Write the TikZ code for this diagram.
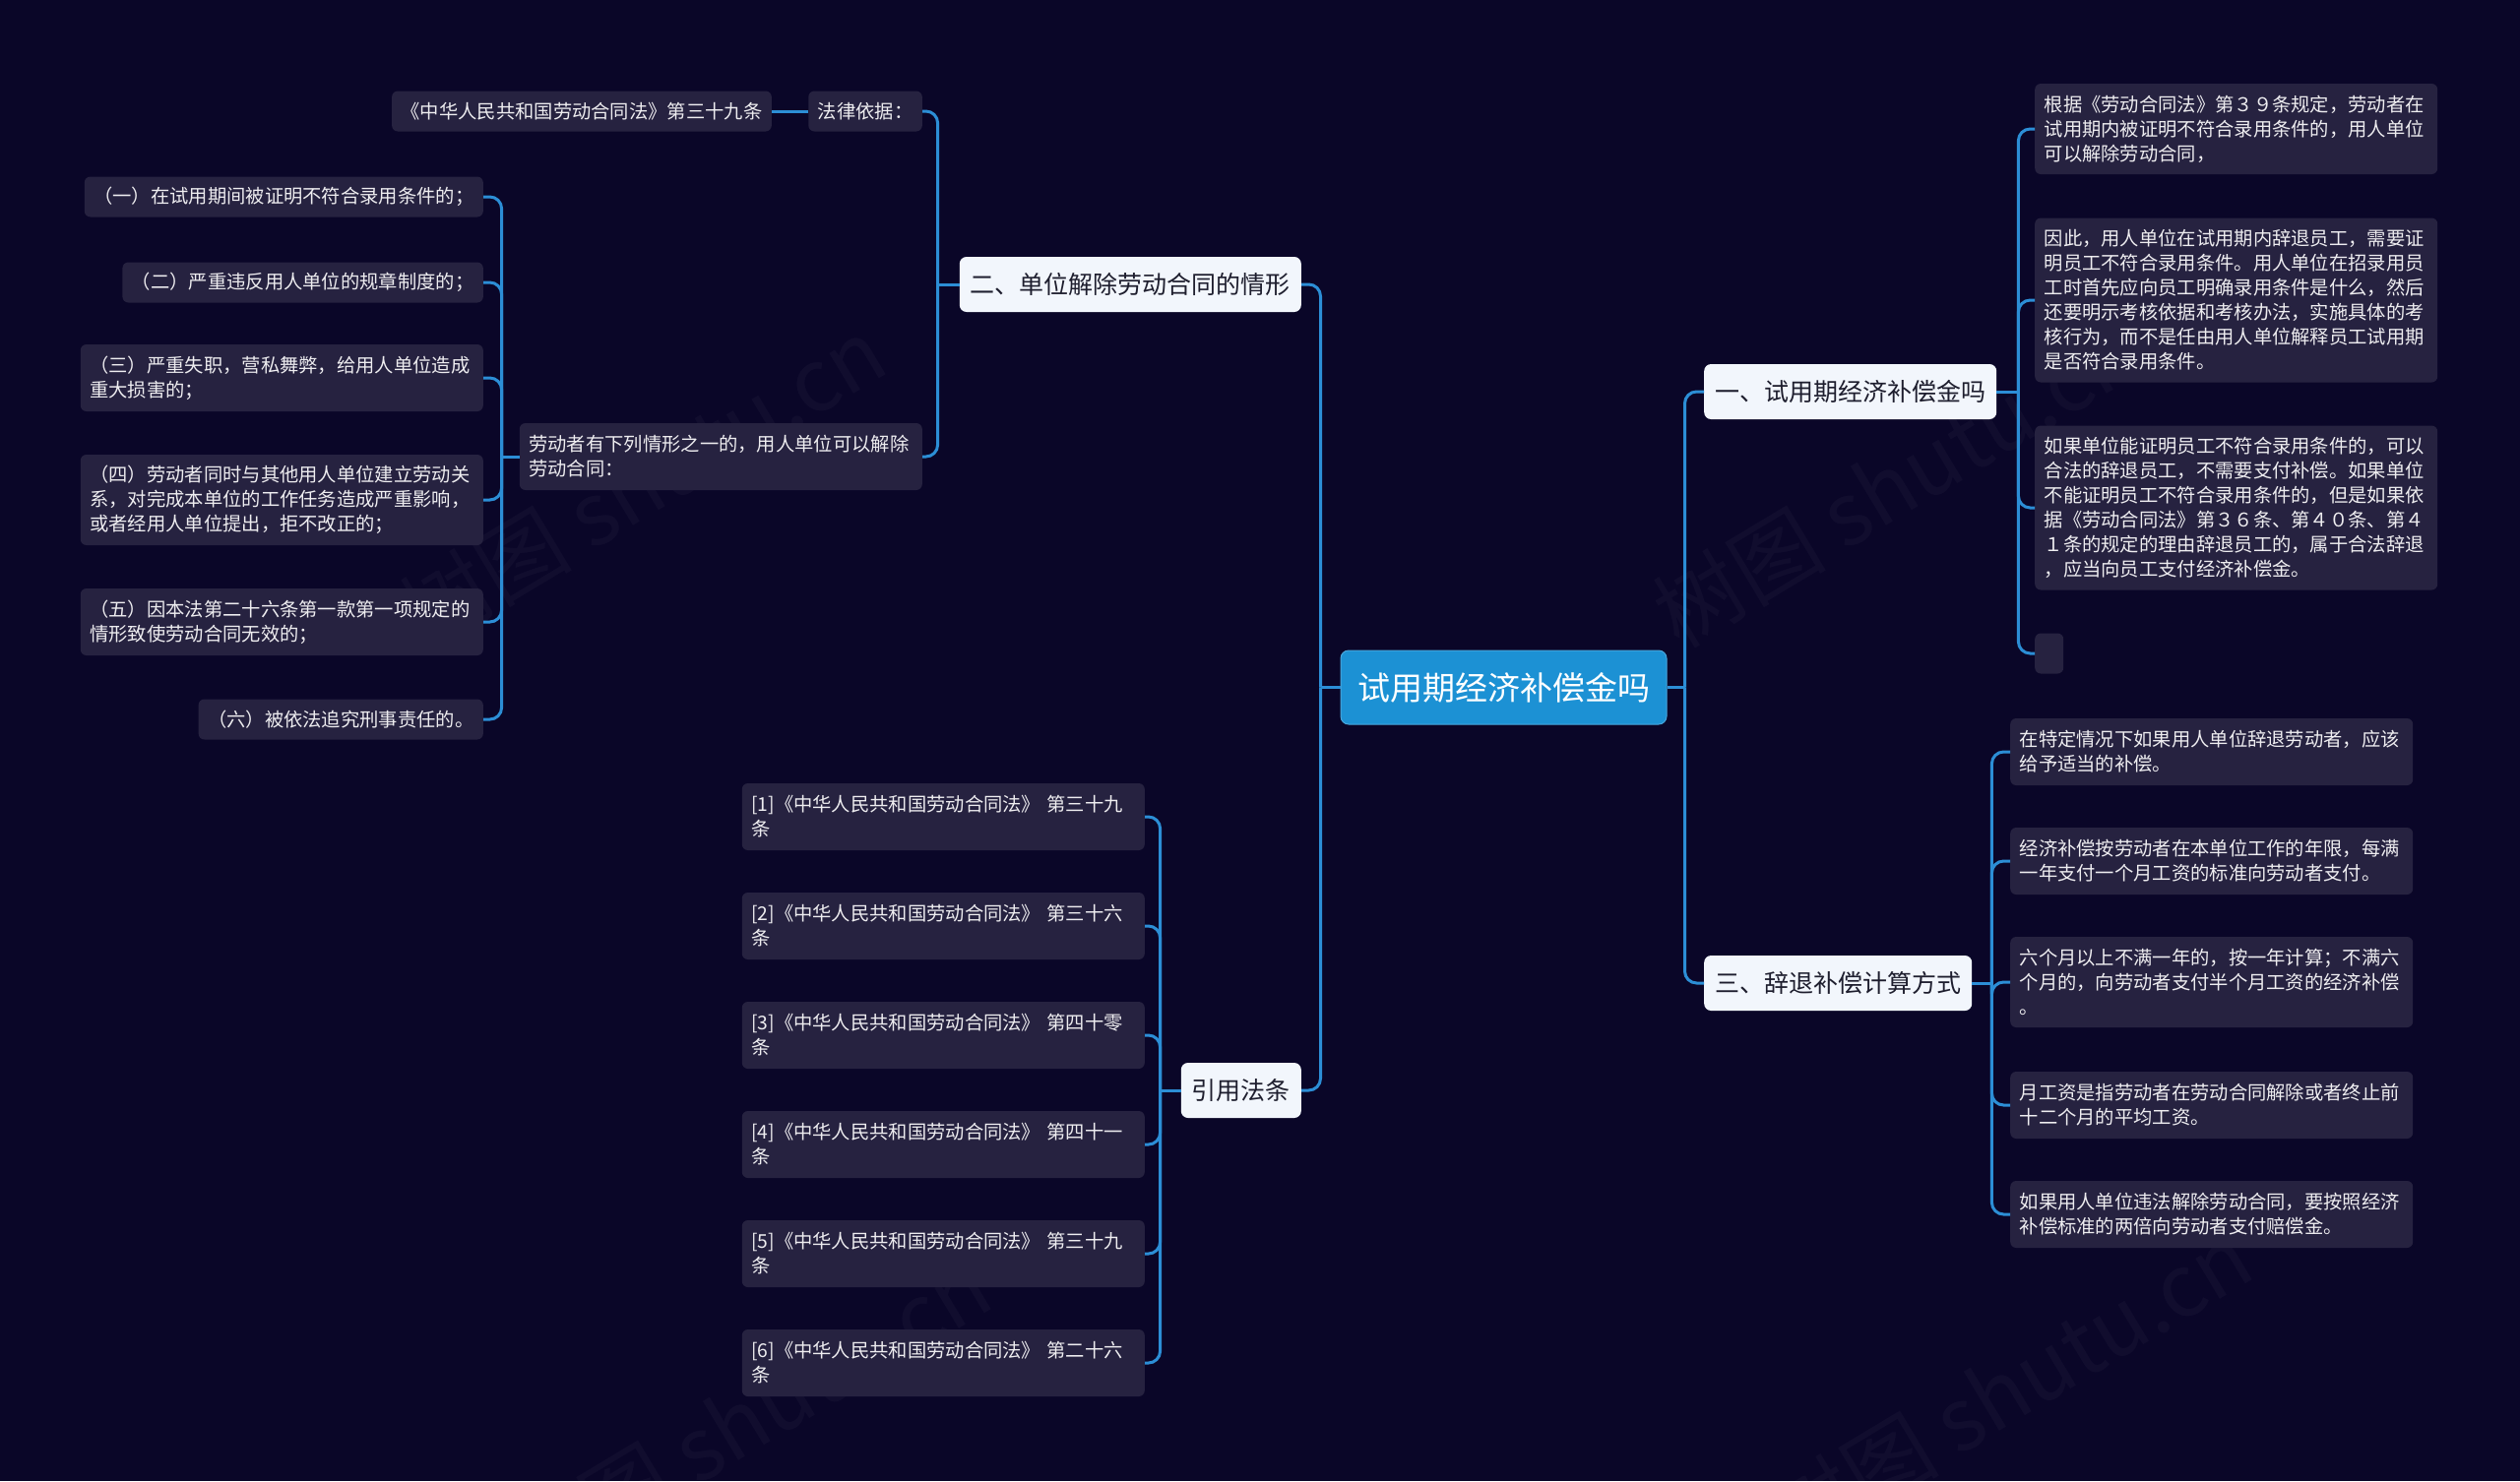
\documentclass[tikz,border=0pt]{standalone}
\usepackage{fontspec}
\setmainfont{Noto Sans CJK SC}
\definecolor{bgc}{HTML}{0A0628}
\definecolor{leafc}{HTML}{262240}
\definecolor{lvlc}{HTML}{F2F6FC}
\definecolor{lvltext}{HTML}{1E1E2E}
\definecolor{linkc}{HTML}{2C8ED6}
\definecolor{rootc}{HTML}{1C91D4}
\tikzset{
  leaf/.style={fill=leafc, text=white!92!leafc, rounded corners=6pt, inner xsep=9.5pt, inner ysep=2pt,
    font=\fontsize{19.3}{25}\selectfont, align=left},
  wide/.style={text width=390pt},
  hA/.style={minimum height=41pt},
  hB/.style={minimum height=68pt},
  hC/.style={minimum height=92pt},
  hF/.style={minimum height=167pt},
  lvl/.style={fill=lvlc, text=lvltext, rounded corners=7pt, inner xsep=11pt, inner ysep=2pt,
    minimum height=56pt, font=\fontsize{25}{30}\selectfont},
  rootn/.style={fill=rootc, draw=rootc!80!white, line width=1pt, text=white, rounded corners=8pt,
    minimum width=331pt, minimum height=75pt, font=\fontsize{33}{40}\selectfont},
  link/.style={draw=linkc, line width=3pt, rounded corners=12pt},
  wm/.style={text=white, opacity=0.03, font=\fontsize{88}{100}\selectfont, rotate=31}
}
\begin{document}
\begin{tikzpicture}[x=1pt,y=-1pt]
\fill[bgc] (0,0) rectangle (2560,1505);
\useasboundingbox (0,0) rectangle (2560,1505);

% watermarks
\node[wm] (w1) at (653,490) {树图 shutu.cn};
\node[wm] (w2) at (1926,490) {树图 shutu.cn};
\node[wm] (w3) at (760,1440) {树图 shutu.cn};
\node[wm] (w4) at (2041,1410) {树图 shutu.cn};

% root and level 1
\node[rootn] (root) at (1527.5,698.5) {试用期经济补偿金吗};
\node[lvl, anchor=east] (n2) at (1322,289) {二、单位解除劳动合同的情形};
\node[lvl, anchor=west] (n1) at (1731,398) {一、试用期经济补偿金吗};
\node[lvl, anchor=west] (n3) at (1731,999) {三、辞退补偿计算方式};
\node[lvl, anchor=east] (nr) at (1322,1108) {引用法条};

% branch 二
\node[leaf,hA,anchor=east] (law) at (937,113) {法律依据：};
\node[leaf,hA,anchor=east] (lawref) at (784,113) {《中华人民共和国劳动合同法》第三十九条};
\node[leaf,wide,hB,anchor=east] (cases) at (937,464) {劳动者有下列情形之一的，用人单位可以解除\\劳动合同：};
\node[leaf,hA,anchor=east] (k1) at (491,200) {（一）在试用期间被证明不符合录用条件的；};
\node[leaf,hA,anchor=east] (k2) at (491,287) {（二）严重违反用人单位的规章制度的；};
\node[leaf,wide,hB,anchor=east] (k3) at (491,384) {（三）严重失职，营私舞弊，给用人单位造成\\重大损害的；};
\node[leaf,wide,hC,anchor=east] (k4) at (491,508) {（四）劳动者同时与其他用人单位建立劳动关\\系，对完成本单位的工作任务造成严重影响，\\或者经用人单位提出，拒不改正的；};
\node[leaf,wide,hB,anchor=east] (k5) at (491,632) {（五）因本法第二十六条第一款第一项规定的\\情形致使劳动合同无效的；};
\node[leaf,hA,anchor=east] (k6) at (491,731) {（六）被依法追究刑事责任的。};

% branch 一
\node[leaf,wide,hC,anchor=west] (c1) at (2067,131) {根据《劳动合同法》第３９条规定，劳动者在\\试用期内被证明不符合录用条件的，用人单位\\可以解除劳动合同，};
\node[leaf,wide,hF,anchor=west] (c2) at (2067,305) {因此，用人单位在试用期内辞退员工，需要证\\明员工不符合录用条件。用人单位在招录用员\\工时首先应向员工明确录用条件是什么，然后\\还要明示考核依据和考核办法，实施具体的考\\核行为，而不是任由用人单位解释员工试用期\\是否符合录用条件。};
\node[leaf,wide,hF,anchor=west] (c3) at (2067,516) {如果单位能证明员工不符合录用条件的，可以\\合法的辞退员工，不需要支付补偿。如果单位\\不能证明员工不符合录用条件的，但是如果依\\据《劳动合同法》第３６条、第４０条、第４\\１条的规定的理由辞退员工的，属于合法辞退\\，应当向员工支付经济补偿金。};
\node[leaf,hA,minimum width=29pt,anchor=west] (c4) at (2067,664) {};

% branch 三
\node[leaf,wide,hB,anchor=west] (d1) at (2042,764) {在特定情况下如果用人单位辞退劳动者，应该\\给予适当的补偿。};
\node[leaf,wide,hB,anchor=west] (d2) at (2042,875) {经济补偿按劳动者在本单位工作的年限，每满\\一年支付一个月工资的标准向劳动者支付。};
\node[leaf,wide,hC,anchor=west] (d3) at (2042,998) {六个月以上不满一年的，按一年计算；不满六\\个月的，向劳动者支付半个月工资的经济补偿\\。};
\node[leaf,wide,hB,anchor=west] (d4) at (2042,1123) {月工资是指劳动者在劳动合同解除或者终止前\\十二个月的平均工资。};
\node[leaf,wide,hB,anchor=west] (d5) at (2042,1234) {如果用人单位违法解除劳动合同，要按照经济\\补偿标准的两倍向劳动者支付赔偿金。};

% branch 引用法条
\node[leaf,wide,hB,anchor=east] (r1) at (1163,830) {[1]《中华人民共和国劳动合同法》 第三十九\\条};
\node[leaf,wide,hB,anchor=east] (r2) at (1163,941) {[2]《中华人民共和国劳动合同法》 第三十六\\条};
\node[leaf,wide,hB,anchor=east] (r3) at (1163,1052) {[3]《中华人民共和国劳动合同法》 第四十零\\条};
\node[leaf,wide,hB,anchor=east] (r4) at (1163,1163) {[4]《中华人民共和国劳动合同法》 第四十一\\条};
\node[leaf,wide,hB,anchor=east] (r5) at (1163,1274) {[5]《中华人民共和国劳动合同法》 第三十九\\条};
\node[leaf,wide,hB,anchor=east] (r6) at (1163,1385) {[6]《中华人民共和国劳动合同法》 第二十六\\条};

% connectors
\draw[link] (root.west) -- ++(-20,0) coordinate (tl);
\draw[link] (tl) |- (n2.east);
\draw[link] (tl) |- (nr.east);
\draw[link] (root.east) -- ++(18,0) coordinate (tr);
\draw[link] (tr) |- (n1.west);
\draw[link] (tr) |- (n3.west);

\draw[link] (n2.west) -- ++(-22,0) coordinate (t2);
\draw[link] (t2) |- (law.east);
\draw[link] (t2) |- (cases.east);
\draw[link] (law.west) -- (lawref.east);

\draw[link] (cases.west) -- ++(-18,0) coordinate (tc);
\foreach \k in {k1,k2,k3,k4,k5,k6} \draw[link] (tc) |- (\k.east);

\draw[link] (n1.east) -- ++(22,0) coordinate (t1);
\foreach \k in {c1,c2,c3,c4} \draw[link] (t1) |- (\k.west);

\draw[link] (n3.east) -- ++(20,0) coordinate (t3);
\foreach \k in {d1,d2,d3,d4,d5} \draw[link] (t3) |- (\k.west);

\draw[link] (nr.west) -- ++(-21,0) coordinate (trr);
\foreach \k in {r1,r2,r3,r4,r5,r6} \draw[link] (trr) |- (\k.east);
\end{tikzpicture}
\end{document}
